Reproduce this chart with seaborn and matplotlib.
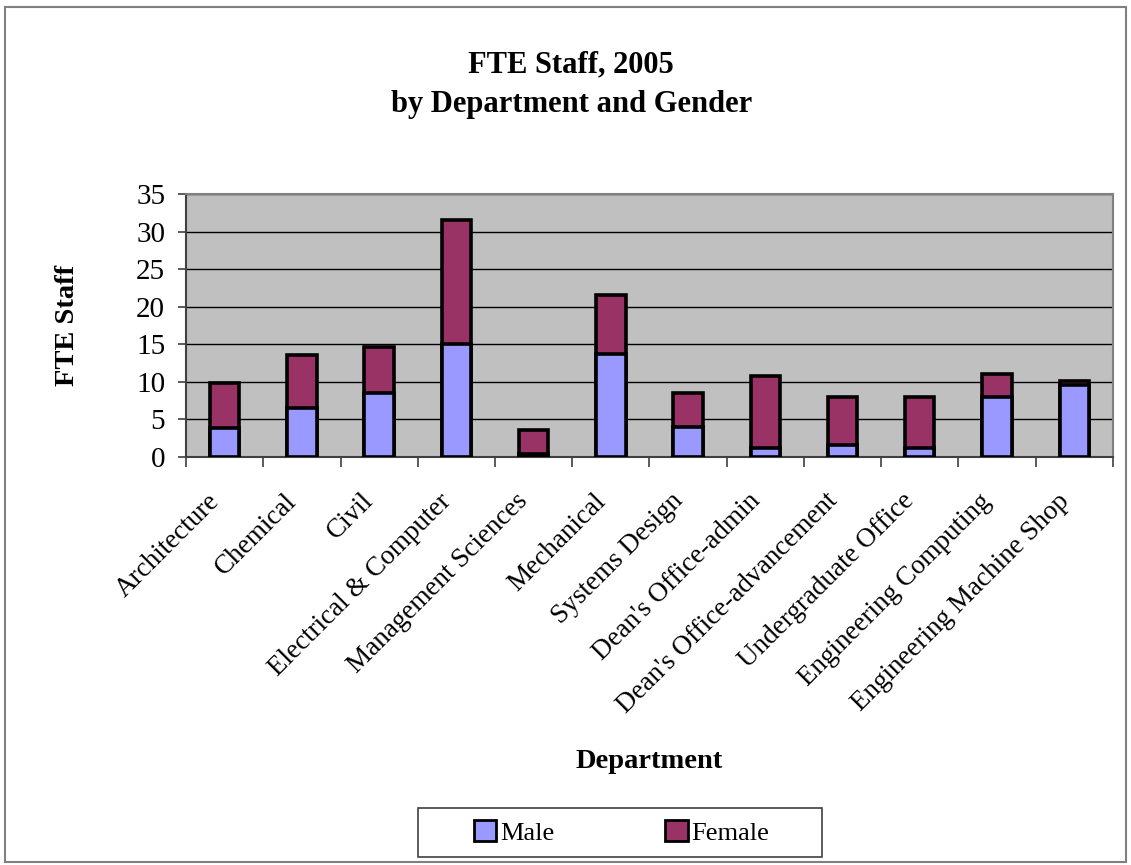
import numpy as np
import pandas as pd
import matplotlib
matplotlib.use("Agg")
import matplotlib.pyplot as plt
import matplotlib.transforms as mtransforms
from matplotlib.patches import Rectangle, Patch
import seaborn as sns

departments = [
    "Architecture", "Chemical", "Civil", "Electrical & Computer",
    "Management Sciences", "Mechanical", "Systems Design",
    "Dean's Office-admin", "Dean's Office-advancement",
    "Undergraduate Office", "Engineering Computing",
    "Engineering Machine Shop",
]
male = [3.8, 6.5, 8.5, 15.0, 0.4, 13.7, 4.0, 1.1, 1.5, 1.1, 8.0, 9.5]
female = [6.0, 7.1, 6.1, 16.5, 3.1, 7.9, 4.5, 9.6, 6.5, 6.9, 3.0, 0.6]

y_ticks = [0, 5, 10, 15, 20, 25, 30, 35]

MALE_C = "#9999FF"
FEMALE_C = "#993366"

df = pd.DataFrame({"Department": departments, "Male": male, "Female": female})
df["Total"] = df["Male"] + df["Female"]

sns.set_theme(style="white")
plt.rcParams["font.family"] = ["Liberation Serif", "DejaVu Serif"]
plt.rcParams["text.color"] = "black"
plt.rcParams["axes.labelcolor"] = "black"
plt.rcParams["xtick.color"] = "black"
plt.rcParams["ytick.color"] = "black"

fig = plt.figure(figsize=(11.31, 8.65), dpi=100)
ax = fig.add_axes([0.1645, 0.472, 0.8195, 0.3037])
ax.set_facecolor("#C0C0C0")

# Stacked bars: the total is drawn in the female colour, the male share on top of it
sns.barplot(data=df, x="Department", y="Total", color=FEMALE_C, saturation=1,
            width=0.38, edgecolor="black", linewidth=2.6, ax=ax, zorder=3)
sns.barplot(data=df, x="Department", y="Male", color=MALE_C, saturation=1,
            width=0.38, edgecolor="black", linewidth=2.6, ax=ax, zorder=4)

ax.set_xlim(-0.5, len(departments) - 0.5)
ax.set_ylim(0, 35)
ax.set_yticks(y_ticks)
ax.set_yticklabels([str(t) for t in y_ticks], fontsize=21)
ax.yaxis.grid(True, color="black", linewidth=1.0, zorder=1)
ax.set_axisbelow(True)

ax.set_xticks(range(len(departments)))
ax.set_xticklabels(departments, rotation=45, ha="right", rotation_mode="anchor",
                   fontsize=19.5)
ax.set_xticks(np.arange(-0.5, len(departments), 1.0), minor=True)
ax.tick_params(axis="x", which="major", length=0, pad=16)
ax.tick_params(axis="x", which="minor", length=7, width=1.2, color="#404040",
               direction="out", bottom=True)
ax.tick_params(axis="y", which="major", length=6, width=1.2, color="#404040",
               direction="out", left=True, pad=9)

# nudge the slanted category labels a little left and down
shift = mtransforms.ScaledTranslation(-13 / 72, -7 / 72, fig.dpi_scale_trans)
for lab in ax.get_xticklabels():
    lab.set_transform(lab.get_transform() + shift)

for side in ["top", "right"]:
    ax.spines[side].set_color("#808080")
    ax.spines[side].set_linewidth(1.5)
for side in ["left", "bottom"]:
    ax.spines[side].set_color("#404040")
    ax.spines[side].set_linewidth(1.5)

ax.set_xlabel("Department", fontsize=20.5, fontweight="bold", labelpad=22)
ax.set_ylabel("FTE Staff", fontsize=20.5, fontweight="bold", labelpad=40)

fig.text(0.505, 0.925, "FTE Staff, 2005", ha="center", va="center",
         fontsize=22, fontweight="bold")
fig.text(0.505, 0.879, "by Department and Gender", ha="center", va="center",
         fontsize=22, fontweight="bold")

# legend box
fig.patches.append(Rectangle((0.3696, 0.00925), 0.3572, 0.0566,
                             transform=fig.transFigure, fill=True,
                             facecolor="white", edgecolor="#404040",
                             linewidth=1.2, zorder=5))
handles = [Patch(facecolor=MALE_C, edgecolor="black", linewidth=2, label="Male"),
           Patch(facecolor=FEMALE_C, edgecolor="black", linewidth=2, label="Female")]
leg = fig.legend(handles=handles, loc="center", bbox_to_anchor=(0.5495, 0.0375),
                 ncol=2, fontsize=19, frameon=False, columnspacing=4.2,
                 handlelength=0.85, handleheight=0.85, handletextpad=0.15,
                 borderpad=0.3, borderaxespad=0)
leg.set_zorder(6)
for t in leg.get_texts():
    t.set_color("black")

fig.patches.append(Rectangle((0.004, 0.004), 0.992, 0.988, transform=fig.transFigure,
                             fill=False, edgecolor="#808080", linewidth=1.5))

fig.savefig("out.png", dpi=100)
